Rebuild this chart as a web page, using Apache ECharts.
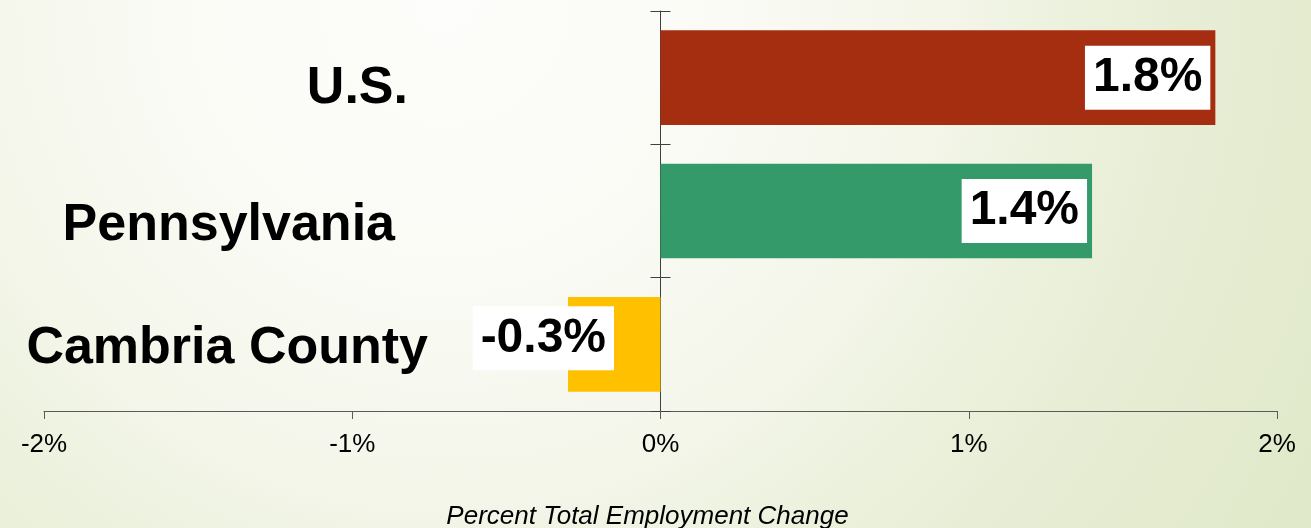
<!DOCTYPE html>
<html>
<head>
<meta charset="utf-8">
<title>Percent Total Employment Change</title>
<script src="https://cdn.jsdelivr.net/npm/echarts@6/dist/echarts.min.js"></script>
<style>
  html, body { margin: 0; padding: 0; background: #fff; }
  #chart { width: 1311px; height: 528px; }
</style>
</head>
<body>
<div id="chart"></div>
<script>
// Areas shown, top to bottom
const regions = ['U.S.', 'Pennsylvania', 'Cambria County'];
// Percent change in total employment
const changePct = [1.8, 1.4, -0.3];
// Bar fill per area
const barColors = ['#A52D10', '#359A69', '#FFC000'];
// Value axis range and step (percent)
const axisMin = -2;
const axisMax = 2;
const axisStep = 1;
const axisTitle = 'Percent Total Employment Change';

const FONT = '"Liberation Sans", Arial, Helvetica, sans-serif';
const GRID = { left: 44, right: 34, top: 11, bottom: 117 };
const CHART_W = 1311;
// right edge of the region names, in pixels from the chart's left side
const NAME_RIGHT = 428;

// Horizontal position of the zero line, measured from the grid's left edge
const gridWidth = CHART_W - GRID.left - GRID.right;
const zeroFromLeft = gridWidth * (0 - axisMin) / (axisMax - axisMin);

// Per-row text styles for the region names
const nameStyles = {
  r0: { padding: [22, 20, 0, 0] },
  r1: { padding: [30, 33, 0, 0] },
  r2: { padding: [8, 0, 0, 0] }
};
Object.keys(nameStyles).forEach(k => {
  Object.assign(nameStyles[k], {
    fontFamily: FONT, fontSize: 52, fontWeight: 'bold', color: '#000'
  });
});

const pctLabel = {
  show: true,
  position: 'insideRight',
  distance: 5,
  formatter: p => p.value.toFixed(1) + '%',
  fontFamily: FONT,
  fontSize: 48,
  fontWeight: 'bold',
  color: '#000',
  textBorderWidth: 0,
  backgroundColor: '#fff',
  padding: [4, 8],
  lineHeight: 56
};

const barData = changePct.map((v, i) => {
  const item = { value: v, itemStyle: { color: barColors[i] } };
  if (v < 0) {
    // negative bar: label sits over the bar's outer end and spills past it
    item.label = { position: 'left', distance: -46, offset: [0, -6] };
  }
  return item;
});

const catBase = { type: 'category', data: regions, inverse: true, splitLine: { show: false } };

const chart = echarts.init(document.getElementById('chart'), null, { renderer: 'canvas' });

chart.setOption({
  animation: false,
  backgroundColor: {
    type: 'radial',
    x: 0.34, y: 0, r: 2.0,
    colorStops: [
      { offset: 0, color: '#FDFDFB' },
      { offset: 0.2, color: '#FBFCF7' },
      { offset: 0.43, color: '#F5F7EC' },
      { offset: 0.66, color: '#E9EFD8' },
      { offset: 0.82, color: '#E4EBCF' },
      { offset: 1, color: '#DFE8C8' }
    ]
  },
  grid: {
    left: GRID.left, right: GRID.right, top: GRID.top, bottom: GRID.bottom,
    containLabel: false,
    outerBoundsMode: 'none'
  },
  xAxis: {
    type: 'value',
    min: axisMin,
    max: axisMax,
    interval: axisStep,
    position: 'bottom',
    splitLine: { show: false },
    axisLine: { show: true, lineStyle: { color: '#5A5A5A', width: 1 } },
    axisTick: { show: true, length: 8, lineStyle: { color: '#5A5A5A', width: 1 } },
    axisLabel: {
      margin: 21,
      formatter: v => v + '%',
      fontFamily: FONT,
      fontSize: 26,
      color: '#000'
    },
    name: axisTitle,
    nameLocation: 'middle',
    nameGap: 93,
    nameTextStyle: {
      fontFamily: FONT,
      fontSize: 26,
      fontStyle: 'italic',
      color: '#000',
      padding: [0, 26, 0, 0]
    }
  },
  yAxis: [
    Object.assign({}, catBase, {
      // zero line with ticks on its left side
      axisLine: { show: true, onZero: true, lineStyle: { color: '#404040', width: 1 } },
      axisTick: { show: true, length: 10, lineStyle: { color: '#404040', width: 1 } },
      axisLabel: { show: false }
    }),
    Object.assign({}, catBase, {
      // ticks on the right side of the zero line
      position: 'left',
      offset: -zeroFromLeft,
      axisLine: { show: false, onZero: false },
      axisTick: { show: true, inside: true, length: 10, lineStyle: { color: '#404040', width: 1 } },
      axisLabel: { show: false }
    }),
    Object.assign({}, catBase, {
      // region names
      position: 'left',
      offset: 0,
      axisLine: { show: false, onZero: false },
      axisTick: { show: false },
      axisLabel: {
        show: true,
        interval: 0,
        inside: true,
        align: 'right',
        margin: NAME_RIGHT - GRID.left,
        formatter: (v, i) => '{r' + i + '|' + v + '}',
        rich: nameStyles
      }
    })
  ],
  series: [
    {
      type: 'bar',
      yAxisIndex: 0,
      barWidth: '71%',
      data: barData,
      label: pctLabel
    }
  ]
});
</script>
</body>
</html>
